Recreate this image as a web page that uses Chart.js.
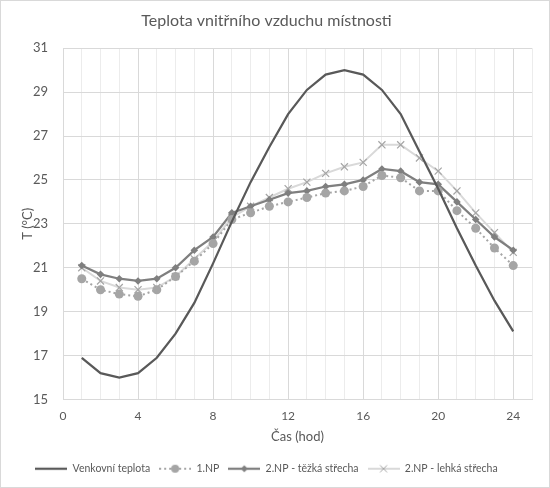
<!DOCTYPE html>
<html>
<head>
<meta charset="utf-8">
<script src="https://cdn.jsdelivr.net/npm/chart.js@4.4.1/dist/chart.umd.min.js"></script>
<style>
html, body { margin: 0; padding: 0; background: #fff; }
#wrap { width: 548px; height: 486px; border: 1px solid #d9d9d9; }
canvas { display: block; }
</style>
</head>
<body>
<div id="wrap"><canvas id="myDiagram" width="548" height="486"></canvas></div>
<script>
const hours = [1, 2, 3, 4, 5, 6, 7, 8, 9, 10, 11, 12, 13, 14, 15, 16, 17, 18, 19, 20, 21, 22, 23, 24];
const venkovni = [16.9, 16.2, 16.0, 16.2, 16.9, 18.0, 19.4, 21.2, 23.1, 24.9, 26.5, 28.0, 29.1, 29.8, 30.0, 29.8, 29.1, 28.0, 26.3, 24.6, 22.8, 21.1, 19.5, 18.1];
const np1 = [20.5, 20.0, 19.8, 19.7, 20.0, 20.6, 21.3, 22.1, 23.2, 23.5, 23.8, 24.0, 24.2, 24.4, 24.5, 24.7, 25.2, 25.1, 24.5, 24.5, 23.6, 22.8, 21.9, 21.1];
const np2Tezka = [21.1, 20.7, 20.5, 20.4, 20.5, 21.0, 21.8, 22.4, 23.5, 23.8, 24.1, 24.4, 24.5, 24.7, 24.8, 25.0, 25.5, 25.4, 24.9, 24.8, 24.0, 23.2, 22.4, 21.8];
const np2Lehka = [21.0, 20.4, 20.1, 20.0, 20.1, 20.6, 21.4, 22.2, 23.3, 23.8, 24.2, 24.6, 24.9, 25.3, 25.6, 25.8, 26.6, 26.6, 26.0, 25.4, 24.5, 23.5, 22.6, 21.7];
const seriesNames = ['Venkovní teplota', '1.NP', '2.NP - těžká střecha', '2.NP - lehká střecha'];
const xTicks = [0, 4, 8, 12, 16, 20, 24];
const yTicks = [15, 17, 19, 21, 23, 25, 27, 29, 31];

const txt = '#595959';
const font = 'Lato';

// small line + marker sample for the legend, like Excel draws it
function sample(lineColor, width, dash, marker) {
    const c = document.createElement('canvas');
    c.width = 32; c.height = 12;
    const g = c.getContext('2d');
    g.strokeStyle = lineColor;
    g.lineWidth = width;
    g.setLineDash(dash);
    g.beginPath(); g.moveTo(0, 6); g.lineTo(32, 6); g.stroke();
    g.setLineDash([]);
    if (marker) marker(g);
    return c;
}
const legendImgs = [
    sample('#595959', 2.25, [], null),
    sample('#a5a5a5', 2, [2, 3], g => { g.fillStyle = '#a5a5a5'; g.beginPath(); g.arc(16, 6, 4, 0, Math.PI * 2); g.fill(); }),
    sample('#7f7f7f', 2.25, [], g => { g.fillStyle = '#7f7f7f'; g.beginPath(); g.moveTo(16, 2.5); g.lineTo(19.5, 6); g.lineTo(16, 9.5); g.lineTo(12.5, 6); g.closePath(); g.fill(); }),
    sample('#d9d9d9', 2, [], g => { g.strokeStyle = '#a5a5a5'; g.lineWidth = 1; g.beginPath(); g.moveTo(12.5, 2.5); g.lineTo(19.5, 9.5); g.moveTo(19.5, 2.5); g.lineTo(12.5, 9.5); g.stroke(); })
];

const pts = arr => arr.map((v, i) => ({ x: hours[i], y: v }));

const ctx = document.getElementById('myDiagram').getContext('2d');
const myChart = new Chart(ctx, {
    type: 'line',
    data: {
        datasets: [{
            label: seriesNames[0],
            data: pts(venkovni),
            borderColor: '#595959',
            borderWidth: 2.25,
            pointRadius: 0
        }, {
            label: seriesNames[1],
            data: pts(np1),
            borderColor: '#a5a5a5',
            backgroundColor: '#a5a5a5',
            borderWidth: 2,
            borderDash: [2, 3],
            pointStyle: 'circle',
            pointRadius: 4.5,
            pointBorderWidth: 0,
            pointBackgroundColor: '#a5a5a5'
        }, {
            label: seriesNames[2],
            data: pts(np2Tezka),
            borderColor: '#7f7f7f',
            backgroundColor: '#7f7f7f',
            borderWidth: 2.25,
            pointStyle: 'rectRot',
            pointRadius: 3.8,
            pointBorderWidth: 0,
            pointBackgroundColor: '#7f7f7f'
        }, {
            label: seriesNames[3],
            data: pts(np2Lehka),
            borderColor: '#d9d9d9',
            borderWidth: 2,
            pointStyle: 'crossRot',
            pointRadius: 5,
            pointBorderWidth: 1.2,
            pointBorderColor: '#a5a5a5'
        }]
    },
    options: {
        responsive: false,
        animation: false,
        layout: { padding: { left: 0, right: 17, top: 4, bottom: 3 } },
        plugins: {
            title: {
                display: true,
                text: 'Teplota vnitřního vzduchu místnosti',
                color: txt,
                font: { family: font, size: 16, weight: 'normal' },
                padding: { top: 6, bottom: 18 }
            },
            legend: {
                position: 'bottom',
                labels: {
                    color: txt,
                    font: { family: font, size: 10.5 },
                    usePointStyle: true,
                    pointStyleWidth: 32,
                    padding: 9,
                    generateLabels: chart => chart.data.datasets.map((d, i) => ({
                        text: d.label,
                        pointStyle: legendImgs[i],
                        fontColor: txt,
                        lineWidth: 0,
                        datasetIndex: i
                    }))
                }
            },
            tooltip: { enabled: false }
        },
        scales: {
            x: {
                type: 'linear',
                min: 0,
                max: 25,
                afterFit: axis => { axis.height = 55; },
                title: {
                    display: true,
                    text: 'Čas (hod)',
                    color: txt,
                    font: { family: font, size: 13 },
                    padding: { top: 0, bottom: 10 }
                },
                ticks: {
                    stepSize: 1,
                    autoSkip: false,
                    maxRotation: 0,
                    color: txt,
                    font: { family: font, size: 12 },
                    padding: 9,
                    callback: v => xTicks.includes(v) ? String(v) : ''
                },
                grid: {
                    color: c => (c.tick && c.tick.value % 4 === 0) ? '#d9d9d9' : '#ececec',
                    drawTicks: false
                },
                border: { color: '#d9d9d9' }
            },
            y: {
                min: 15,
                max: 31,
                afterFit: axis => { axis.width = 62; },
                title: {
                    display: true,
                    text: 'T (°C)',
                    color: txt,
                    font: { family: font, size: 13 },
                    padding: { top: 19, bottom: 0 }
                },
                afterBuildTicks: axis => { axis.ticks = yTicks.map(v => ({ value: v })); },
                ticks: {
                    color: txt,
                    font: { family: font, size: 13 },
                    padding: 15
                },
                grid: { color: '#d9d9d9', drawTicks: false },
                border: { display: false }
            }
        }
    }
});
</script>
</body>
</html>
